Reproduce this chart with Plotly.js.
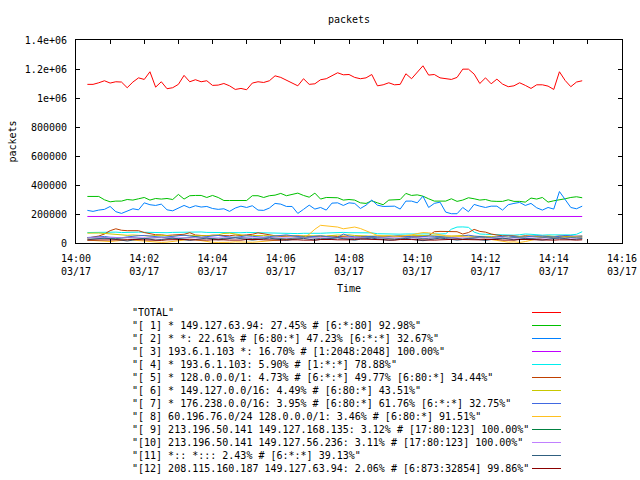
<!DOCTYPE html>
<html>
<head>
<meta charset="utf-8">
<script src="https://cdn.plot.ly/plotly-3.0.1.min.js"></script>
<style>html,body{margin:0;padding:0;background:#fff;}#chart{width:640px;height:480px;}</style>
</head>
<body>
<div id="chart"></div>
<script>
// Seconds after 14:00:00 on 03/17
const times = [20,30,40,50,60,70,80,90,100,110,
  120,130,140,150,160,170,180,190,200,210,
  220,230,240,250,260,270,280,290,300,310,
  320,330,340,350,360,370,380,390,400,410,
  420,430,440,450,460,470,480,490,500,510,
  520,530,540,550,560,570,580,590,600,610,
  620,630,640,650,660,670,680,690,700,710,
  720,730,740,750,760,770,780,790,800,810,
  820,830,840,850,860,870,880,890];

const xTickVals = [0,120,240,360,480,600,720,840,960];
const xTickText = ["14:00<br>03/17","14:02<br>03/17","14:04<br>03/17","14:06<br>03/17","14:08<br>03/17","14:10<br>03/17","14:12<br>03/17","14:14<br>03/17","14:16<br>03/17"];
const xMinorVals = [60,180,300,420,540,660,780,900];
const yTickVals = [0,200000,400000,600000,800000,1000000,1200000,1400000];
const yTickText = ["0","200000","400000","600000","800000","1e+06","1.2e+06","1.4e+06"];

const total = [1094000,1094000,1105000,1119000,1103000,1112000,1110000,1071000,1110000,1139000,
  1128000,1181000,1075000,1112000,1064000,1071000,1094000,1156000,1112000,1126000,
  1112000,1119000,1087000,1089000,1100000,1084000,1059000,1066000,1057000,1103000,
  1112000,1107000,1119000,1153000,1142000,1121000,1103000,1084000,1133000,1094000,
  1098000,1126000,1133000,1153000,1174000,1160000,1162000,1142000,1133000,1139000,
  1162000,1084000,1091000,1105000,1091000,1094000,1167000,1133000,1178000,1222000,
  1158000,1162000,1139000,1133000,1128000,1142000,1199000,1199000,1165000,1100000,
  1139000,1098000,1130000,1096000,1078000,1084000,1105000,1087000,1066000,1091000,
  1091000,1082000,1059000,1181000,1121000,1078000,1110000,1119000];

const s1 = [321000,321000,321000,298000,284000,289000,289000,300000,296000,305000,
  314000,296000,307000,303000,307000,300000,335000,303000,326000,328000,
  328000,314000,328000,314000,293000,293000,293000,293000,293000,326000,
  326000,314000,326000,330000,342000,326000,337000,344000,328000,316000,
  344000,303000,314000,314000,312000,296000,300000,296000,277000,273000,
  291000,277000,264000,296000,296000,300000,342000,328000,332000,323000,
  305000,289000,289000,289000,305000,287000,296000,312000,305000,296000,
  300000,289000,287000,287000,298000,287000,287000,282000,310000,303000,
  314000,282000,291000,296000,305000,314000,319000,312000];

const s2 = [225000,218000,227000,232000,252000,216000,204000,218000,236000,229000,
  277000,264000,259000,268000,229000,222000,241000,259000,243000,257000,
  248000,252000,238000,232000,236000,218000,241000,254000,245000,257000,
  227000,225000,241000,273000,268000,252000,252000,204000,232000,261000,
  234000,245000,227000,275000,277000,259000,277000,273000,238000,261000,
  296000,261000,252000,254000,254000,234000,289000,289000,277000,323000,
  245000,273000,282000,213000,202000,202000,245000,216000,266000,254000,
  245000,254000,254000,227000,264000,273000,280000,259000,273000,243000,
  227000,245000,234000,355000,296000,245000,236000,254000];

const s3 = [183000,183000,183000,178000,178000,183000,183000,183000,183000,183000,
  183000,183000,183000,183000,183000,183000,183000,183000,183000,183000,
  183000,183000,183000,183000,183000,183000,183000,183000,183000,183000,
  183000,183000,183000,183000,183000,183000,183000,183000,183000,183000,
  183000,183000,183000,183000,183000,183000,183000,183000,183000,183000,
  183000,183000,183000,183000,183000,183000,183000,183000,183000,183000,
  183000,183000,183000,183000,183000,183000,183000,183000,183000,183000,
  183000,183000,183000,183000,183000,183000,183000,183000,183000,183000,
  183000,183000,183000,183000,183000,183000,183000,183000];

const s4 = [72000,73000,75000,74000,76000,75000,72000,74000,73000,75000,
  74000,73000,70000,72000,71000,73000,74000,71000,72000,75000,
  76000,73000,72000,70000,71000,72000,70000,71000,73000,72000,
  70000,68000,67000,68000,66000,67000,66000,65000,67000,66000,
  68000,67000,69000,72000,72000,73000,71000,72000,73000,72000,
  70000,64000,62000,63000,62000,61000,62000,63000,62000,61000,
  62000,63000,62000,64000,95000,110000,111000,108000,75000,62000,
  60000,58000,55000,56000,55000,54000,57000,62000,60000,55000,
  54000,56000,55000,56000,57000,56000,60000,78000];

const s5 = [34000,40000,48000,62000,85000,98000,88000,85000,86000,85000,
  72000,62000,57000,56000,52000,55000,58000,60000,71000,55000,
  52000,50000,54000,52000,48000,50000,55000,52000,56000,60000,
  70000,62000,55000,50000,46000,48000,45000,50000,47000,44000,
  46000,43000,45000,48000,45000,42000,44000,40000,43000,46000,
  42000,40000,44000,41000,43000,45000,42000,47000,44000,46000,
  50000,78000,80000,80000,80000,78000,62000,72000,94000,80000,
  75000,62000,55000,50000,52000,48000,45000,50000,47000,44000,
  42000,46000,44000,48000,45000,43000,47000,46000];

const s6 = [68000,70000,69000,66000,62000,58000,55000,53000,55000,52000,
  50000,48000,52000,54000,50000,47000,52000,55000,53000,50000,
  48000,50000,52000,56000,66000,68000,62000,55000,50000,52000,
  54000,51000,49000,47000,50000,52000,48000,46000,49000,51000,
  52000,50000,48000,53000,55000,54000,56000,52000,50000,48000,
  47000,50000,52000,49000,47000,46000,50000,53000,55000,52000,
  50000,48000,46000,45000,47000,50000,52000,48000,44000,46000,
  48000,45000,43000,46000,48000,44000,42000,45000,47000,44000,
  46000,48000,45000,43000,47000,45000,44000,48000];

const s7 = [38000,40000,42000,45000,40000,38000,36000,42000,48000,50000,
  52000,48000,44000,40000,42000,46000,50000,54000,48000,42000,
  40000,44000,48000,52000,46000,40000,38000,44000,50000,46000,
  42000,40000,44000,48000,52000,56000,50000,44000,40000,42000,
  46000,50000,44000,40000,38000,62000,48000,42000,40000,44000,
  46000,42000,40000,44000,48000,52000,46000,42000,40000,44000,
  48000,46000,42000,40000,38000,42000,50000,54000,48000,44000,
  40000,38000,42000,46000,50000,44000,40000,42000,46000,50000,
  48000,44000,42000,46000,52000,50000,46000,48000];

const s8 = [20000,18000,15000,12000,10000,14000,18000,22000,20000,16000,
  12000,8000,6000,4000,6000,10000,14000,20000,28000,22000,
  16000,8000,5000,4000,3000,5000,8000,6000,4000,5000,
  8000,12000,16000,20000,24000,28000,30000,34000,36000,60000,
  95000,122000,118000,112000,110000,98000,105000,110000,100000,85000,
  68000,52000,48000,50000,46000,48000,52000,55000,65000,72000,
  70000,62000,55000,50000,48000,46000,44000,42000,40000,36000,
  30000,24000,16000,10000,6000,8000,4000,10000,20000,30000,
  36000,40000,38000,34000,36000,40000,42000,38000];

const s9 = [36000,34000,32000,30000,28000,30000,34000,38000,36000,32000,
  30000,34000,38000,40000,36000,32000,30000,34000,38000,42000,
  38000,34000,30000,28000,32000,36000,40000,38000,34000,30000,
  32000,36000,38000,34000,30000,28000,32000,36000,40000,38000,
  34000,30000,32000,36000,38000,34000,32000,30000,34000,38000,
  40000,36000,32000,30000,28000,32000,36000,38000,34000,30000,
  32000,36000,40000,38000,34000,30000,28000,32000,36000,40000,
  38000,34000,32000,30000,34000,38000,36000,32000,30000,34000,
  38000,40000,36000,32000,34000,38000,36000,34000];

const s10 = [36000,36000,35000,35000,34000,34000,35000,36000,36000,35000,
  34000,34000,35000,35000,36000,36000,35000,34000,34000,35000,
  35000,36000,35000,34000,34000,33000,34000,35000,35000,34000,
  34000,35000,36000,35000,34000,33000,34000,35000,35000,34000,
  33000,34000,35000,35000,34000,34000,35000,36000,35000,34000,
  34000,35000,35000,34000,33000,34000,35000,35000,34000,34000,
  35000,36000,35000,34000,34000,35000,35000,34000,33000,34000,
  35000,35000,34000,34000,35000,36000,35000,34000,34000,35000,
  35000,34000,33000,34000,35000,35000,34000,34000];

const s11 = [22000,26000,30000,34000,30000,24000,18000,14000,20000,28000,
  32000,26000,20000,24000,30000,34000,28000,22000,18000,24000,
  30000,34000,28000,22000,26000,32000,36000,30000,24000,20000,
  24000,30000,34000,28000,22000,18000,24000,30000,32000,26000,
  20000,24000,28000,32000,36000,30000,24000,20000,26000,30000,
  34000,28000,22000,18000,22000,28000,32000,26000,20000,16000,
  22000,28000,34000,30000,24000,20000,24000,30000,28000,22000,
  18000,24000,30000,34000,28000,22000,26000,32000,28000,22000,
  20000,26000,32000,36000,30000,24000,26000,30000];

const s12 = [20000,20000,21000,22000,20000,18000,19000,22000,24000,22000,
  20000,18000,16000,18000,22000,24000,26000,24000,22000,20000,
  18000,20000,22000,24000,22000,20000,18000,20000,24000,26000,
  24000,22000,20000,18000,20000,22000,24000,22000,20000,18000,
  20000,24000,26000,24000,22000,20000,22000,24000,28000,26000,
  24000,22000,20000,18000,20000,24000,26000,24000,22000,20000,
  18000,20000,22000,24000,28000,26000,24000,22000,20000,22000,
  24000,26000,24000,20000,18000,20000,24000,26000,24000,22000,
  20000,18000,20000,22000,24000,22000,20000,22000];

const seriesNames = [
  '"TOTAL"',
  '"[ 1] * 149.127.63.94: 27.45% # [6:*:80] 92.98%"',
  '"[ 2] * *: 22.61% # [6:80:*] 47.23% [6:*:*] 32.67%"',
  '"[ 3] 193.6.1.103 *: 16.70% # [1:2048:2048] 100.00%"',
  '"[ 4] * 193.6.1.103: 5.90% # [1:*:*] 78.88%"',
  '"[ 5] * 128.0.0.0/1: 4.73% # [6:*:*] 49.77% [6:80:*] 34.44%"',
  '"[ 6] * 149.127.0.0/16: 4.49% # [6:80:*] 43.51%"',
  '"[ 7] * 176.238.0.0/16: 3.95% # [6:80:*] 61.76% [6:*:*] 32.75%"',
  '"[ 8] 60.196.76.0/24 128.0.0.0/1: 3.46% # [6:80:*] 91.51%"',
  '"[ 9] 213.196.50.141 149.127.168.135: 3.12% # [17:80:123] 100.00%"',
  '"[10] 213.196.50.141 149.127.56.236: 3.11% # [17:80:123] 100.00%"',
  '"[11] *:: *::: 2.43% # [6:*:*] 39.13%"',
  '"[12] 208.115.160.187 149.127.63.94: 2.06% # [6:873:32854] 99.86%"'
];
const seriesValues = [total,s1,s2,s3,s4,s5,s6,s7,s8,s9,s10,s11,s12];
const seriesColors = ["#ff0000","#00c000","#0080ff","#c000ff","#00eeee","#c04000","#c8c800","#4169e1","#ffc020","#008040","#c080ff","#306080","#8b0000"];

const FONT = "DejaVu Sans Mono";
const traces = seriesValues.map((v, i) => ({
  type: "scatter", mode: "lines", x: times, y: v, name: seriesNames[i],
  line: {color: seriesColors[i], width: 1}, showlegend: false, hoverinfo: "skip"
}));

// plot area in pixels: left 76, right 622, top 40, bottom 243
const plotW = 546, plotH = 203, plotB = 243;
const annotations = [];
const shapes = [];
seriesNames.forEach((nm, i) => {
  const py = 312.5 + 13 * i;
  const yp = (plotB - py) / plotH;
  annotations.push({
    xref: "paper", yref: "paper", x: (130 - 76) / plotW, y: yp,
    xanchor: "left", yanchor: "middle", showarrow: false, text: nm,
    font: {family: FONT, size: 10, color: "#000"}
  });
  shapes.push({
    type: "line", xref: "paper", yref: "paper",
    x0: (532 - 76) / plotW, x1: (561 - 76) / plotW, y0: yp, y1: yp,
    line: {color: seriesColors[i], width: 1}
  });
});

const layout = {
  width: 640, height: 480,
  margin: {l: 76, r: 18, t: 40, b: 237, pad: 0},
  paper_bgcolor: "#fff", plot_bgcolor: "#fff",
  font: {family: FONT, size: 10, color: "#000"},
  title: {text: "packets", x: 0.5, xref: "paper", y: 1 - 19/480, yref: "container", yanchor: "middle",
          font: {family: FONT, size: 10, color: "#000"}},
  xaxis: {
    range: [0, 960], tickmode: "array", tickvals: xTickVals, ticktext: xTickText,
    ticks: "inside", ticklen: 4, tickcolor: "#000", showline: true, linecolor: "#000", linewidth: 1,
    mirror: "ticks", showgrid: false, zeroline: false, automargin: false, ticklabelstandoff: 6,
    tickfont: {family: FONT, size: 10, color: "#000"},
    minor: {tickmode: "array", tickvals: xMinorVals, ticks: "inside", ticklen: 4, tickcolor: "#000", showgrid: false},
    title: {text: "Time", standoff: 8, font: {family: FONT, size: 10, color: "#000"}}
  },
  yaxis: {
    range: [0, 1400000], tickmode: "array", tickvals: yTickVals, ticktext: yTickText,
    ticks: "inside", ticklen: 4, tickcolor: "#000", showline: true, linecolor: "#000", linewidth: 1,
    mirror: "ticks", showgrid: false, zeroline: false, automargin: false, ticklabelstandoff: 6,
    tickfont: {family: FONT, size: 10, color: "#000"},
    title: {text: "packets", standoff: 6, font: {family: FONT, size: 10, color: "#000"}}
  },
  annotations: annotations,
  shapes: shapes
};

Plotly.newPlot("chart", traces, layout, {staticPlot: true, displayModeBar: false});
</script>
</body>
</html>
